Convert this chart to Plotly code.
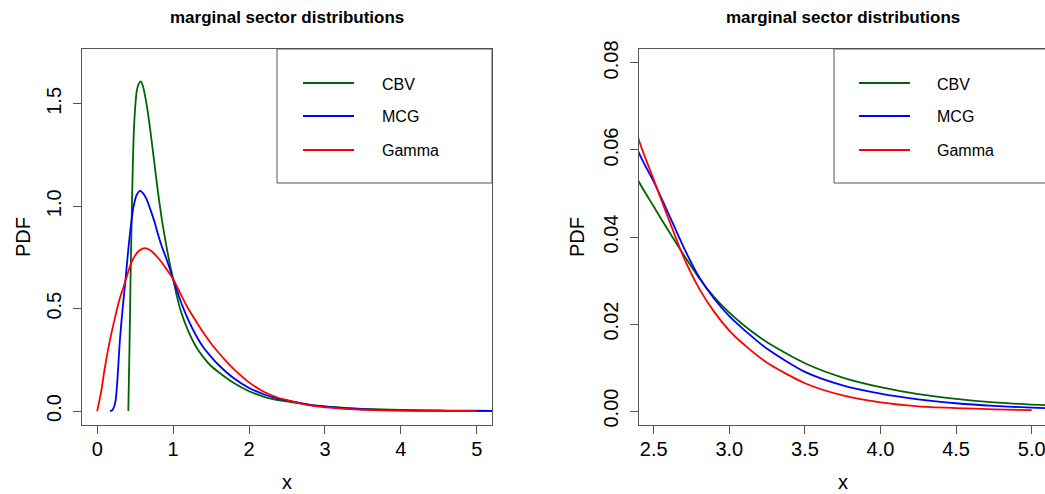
import plotly.graph_objects as go

# ---------------- data ----------------
cbv_x = [0.41, 0.425, 0.44, 0.46, 0.48, 0.50, 0.52, 0.55, 0.575, 0.60,
         0.65, 0.70, 0.75, 0.80, 0.85, 0.90, 0.95, 1.00, 1.05, 1.10,
         1.20, 1.30, 1.40, 1.50, 1.60, 1.80, 2.00, 2.20, 2.30, 2.40,
         2.50, 2.60, 2.70, 2.80, 2.90, 3.00, 3.10, 3.25, 3.50, 3.75,
         4.00, 4.25, 4.50, 4.75, 5.00, 5.25]
cbv_y = [0.0, 0.30, 0.65, 1.05, 1.34, 1.48, 1.56, 1.60, 1.61, 1.59,
         1.50, 1.37, 1.22, 1.07, 0.94, 0.83, 0.73, 0.645, 0.56, 0.49,
         0.39, 0.315, 0.262, 0.22, 0.19, 0.137, 0.097, 0.0695, 0.0600, 0.0528,
         0.0470, 0.0413, 0.0358, 0.0306, 0.0262, 0.0226, 0.0196, 0.0158, 0.0110, 0.0077,
         0.0055, 0.0039, 0.0028, 0.0020, 0.0015, 0.0011]

mcg_x = [0.17, 0.20, 0.237, 0.26, 0.30, 0.335, 0.37, 0.40, 0.43, 0.48,
         0.52, 0.566, 0.60, 0.65, 0.70, 0.75, 0.80, 0.85, 0.92, 1.00,
         1.10, 1.20, 1.30, 1.40, 1.50, 1.60, 1.80, 2.00, 2.20, 2.40,
         2.50, 2.60, 2.70, 2.80, 2.90, 3.00, 3.10, 3.25, 3.50, 3.75,
         4.00, 4.25, 4.50, 4.75, 5.00, 5.25]
mcg_y = [0.0, 0.005, 0.04, 0.12, 0.35, 0.50, 0.63, 0.75, 0.86, 1.00,
         1.055, 1.075, 1.065, 1.035, 0.985, 0.93, 0.865, 0.805, 0.735, 0.645,
         0.535, 0.445, 0.37, 0.31, 0.265, 0.225, 0.160, 0.113, 0.081, 0.0595,
         0.0527, 0.0452, 0.0375, 0.0308, 0.0258, 0.0218, 0.0186, 0.0143, 0.0090, 0.0059,
         0.0040, 0.0027, 0.0018, 0.0012, 0.0008, 0.0005]

gam_x = [0.0, 0.05, 0.10, 0.17, 0.24, 0.29, 0.35, 0.40, 0.45, 0.50,
         0.56, 0.63, 0.70, 0.76, 0.83, 0.90, 1.00, 1.10, 1.20, 1.30,
         1.40, 1.50, 1.60, 1.70, 1.80, 2.00, 2.20, 2.40, 2.50, 2.60,
         2.70, 2.80, 2.90, 3.00, 3.10, 3.25, 3.50, 3.75, 4.00, 4.25,
         4.50, 4.75, 5.00]
gam_y = [0.0, 0.09, 0.21, 0.35, 0.465, 0.54, 0.61, 0.67, 0.725, 0.76,
         0.785, 0.796, 0.785, 0.765, 0.735, 0.70, 0.645, 0.57, 0.50, 0.44,
         0.382, 0.330, 0.285, 0.243, 0.205, 0.14, 0.093, 0.0625, 0.0532, 0.0440,
         0.0352, 0.0282, 0.0228, 0.0185, 0.0152, 0.0111, 0.0064, 0.0036, 0.0020, 0.0011,
         0.0007, 0.0004, 0.0002]

series_names = ["CBV", "MCG", "Gamma"]
series_colors = ["#006400", "#0000FF", "#FF0000"]

left_xticks = [0, 1, 2, 3, 4, 5]
left_yticks = [0.0, 0.5, 1.0, 1.5]
left_yticklabels = ["0.0", "0.5", "1.0", "1.5"]
right_xticks = [2.5, 3.0, 3.5, 4.0, 4.5, 5.0]
right_xticklabels = ["2.5", "3.0", "3.5", "4.0", "4.5", "5.0"]
right_yticks = [0.00, 0.02, 0.04, 0.06, 0.08]
right_yticklabels = ["0.00", "0.02", "0.04", "0.06", "0.08"]

title_text = "marginal sector distributions"
x_label = "x"
y_label = "PDF"

# ---------------- layout helpers ----------------
W, H = 1045, 494


def px(v):
    return v / W


def py(v):
    return 1 - v / H


FONT = "Liberation Sans, Arial, sans-serif"
AX = "#555555"

xs_all = [cbv_x, mcg_x, gam_x]
ys_all = [cbv_y, mcg_y, gam_y]

fig = go.Figure()
for xa, ya in (("x", "y"), ("x2", "y2")):
    for name, xs, ys, col in zip(series_names, xs_all, ys_all, series_colors):
        fig.add_trace(go.Scatter(x=xs, y=ys, mode="lines", name=name,
                                 line=dict(color=col, width=1.8, shape="spline",
                                           smoothing=0.7),
                                 xaxis=xa, yaxis=ya, showlegend=False,
                                 hoverinfo="skip"))

common = dict(showline=True, linecolor=AX, linewidth=1, ticks="outside",
              ticklen=8, tickcolor=AX, tickwidth=1, showgrid=False,
              zeroline=False, ticklabeloverflow="allow",
              tickfont=dict(size=20, color="black", family=FONT))

fig.update_layout(
    width=W, height=H,
    margin=dict(l=0, r=0, t=0, b=0),
    paper_bgcolor="white", plot_bgcolor="white",
    template="none",
    font=dict(family=FONT, color="black"),
    xaxis=dict(domain=[px(82), px(492)], range=[-0.2, 5.2], tickvals=left_xticks,
               mirror=True, anchor="y", ticklabelstandoff=-2, **common),
    yaxis=dict(domain=[py(425), py(49)], range=[-0.068, 1.768], tickvals=left_yticks,
               ticktext=left_yticklabels, tickangle=-90, mirror=True, anchor="x",
               ticklabelstandoff=4, **common),
    xaxis2=dict(domain=[px(639), 1.0], range=[2.4028, 5.088], tickvals=right_xticks,
                ticktext=right_xticklabels, mirror=True, anchor="y2",
                ticklabelstandoff=-2, **common),
    yaxis2=dict(domain=[py(425), py(49)], range=[-0.0032, 0.0832], tickvals=right_yticks,
                ticktext=right_yticklabels, tickangle=-90, mirror=False, anchor="x2",
                ticklabelstandoff=4, **common),
)

annotations = []
shapes = []
panels = [
    dict(cx=287, pdf_x=23, box=(277, 492), line=(303, 354), text_x=380),
    dict(cx=843, pdf_x=577, box=(834, 1048), line=(859, 910), text_x=935),
]
legend_rows = [83, 116, 150]
for p in panels:
    annotations.append(dict(x=px(p["cx"]), y=py(17), xref="paper", yref="paper",
                            text="<b>" + title_text + "</b>", showarrow=False,
                            xanchor="center", yanchor="middle",
                            font=dict(size=17, family=FONT, color="black")))
    annotations.append(dict(x=px(p["cx"]), y=py(482), xref="paper", yref="paper",
                            text=x_label, showarrow=False, xanchor="center",
                            yanchor="middle", font=dict(size=20, family=FONT, color="black")))
    annotations.append(dict(x=px(p["pdf_x"]), y=py(237), xref="paper", yref="paper",
                            text=y_label, showarrow=False, textangle=-90,
                            xanchor="center", yanchor="middle",
                            font=dict(size=20, family=FONT, color="black")))
    shapes.append(dict(type="rect", xref="paper", yref="paper",
                       x0=px(p["box"][0]), x1=px(p["box"][1]),
                       y0=py(183), y1=py(49), line=dict(color=AX, width=1),
                       fillcolor="rgba(0,0,0,0)", layer="above"))
    for name, col, yy in zip(series_names, series_colors, legend_rows):
        shapes.append(dict(type="line", xref="paper", yref="paper",
                           x0=px(p["line"][0]), x1=px(p["line"][1]),
                           y0=py(yy), y1=py(yy), line=dict(color=col, width=2)))
        annotations.append(dict(x=px(p["text_x"]), y=py(yy + 1), xref="paper",
                                yref="paper", text=name, showarrow=False,
                                xanchor="left", yanchor="middle",
                                font=dict(size=16, family=FONT, color="black")))

fig.update_layout(annotations=annotations, shapes=shapes)
fig.write_html("out.html")
